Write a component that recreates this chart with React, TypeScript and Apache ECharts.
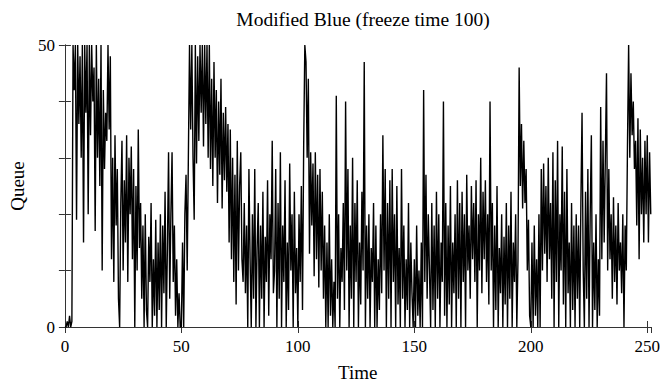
import React, { useEffect, useRef } from "react";
import * as echarts from "echarts";

const timeStep = 0.5;
const q000 = [0,0,1,0,2,0,1,50,42,50,19,50,36,48,30,50,15,50,38,50];
const q010 = [20,50,34,50,40,46,17,50,30,44,25,50,10,42,28,38,33,50,35,48];
const q020 = [12,30,8,34,18,28,5,0,22,33,10,26,15,34,8,30,20,32,12,28];
const q030 = [0,25,10,35,14,22,5,18,0,20,3,0,16,8,22,0,12,2,19,0];
const q040 = [15,3,20,0,18,6,24,0,14,31,5,20,31,8,18,2,12,0,6,0];
const q050 = [0,15,0,20,27,10,30,50,35,50,30,19,50,29,48,33,50,38,50,32];
const q060 = [50,36,50,30,50,28,44,25,47,30,42,22,40,27,44,21,38,26,39,24];
const q070 = [36,15,35,12,30,8,27,4,33,10,25,31,12,8,22,6,18,0,28,12];
const q080 = [0,20,5,28,0,14,22,0,18,5,24,0,16,8,26,2,20,12,33,6];
const q090 = [10,28,0,22,5,31,0,18,8,26,0,15,3,29,10,20,0,24,6,14];
const q100 = [0,20,8,25,3,32,50,47,30,44,13,31,18,29,9,31,12,27,7,28];
const q110 = [10,24,5,18,0,15,0,20,2,12,0,8,0,41,5,20,0,14,8,22];
const q120 = [3,40,10,28,0,18,5,30,0,22,8,26,0,15,4,24,10,47,0,18];
const q130 = [5,20,0,14,8,22,0,18,0,12,3,20,6,34,10,28,0,22,5,26];
const q140 = [0,28,8,20,0,25,4,14,0,28,5,18,0,12,3,22,0,15,6,0];
const q150 = [12,0,18,2,10,0,15,0,42,8,27,5,20,10,0,22,3,18,0,24];
const q160 = [5,20,0,15,8,40,2,22,0,18,4,25,0,15,6,20,0,26,5,22];
const q170 = [0,24,8,20,0,27,10,18,5,25,12,22,8,26,0,20,10,30,6,24];
const q180 = [12,26,8,20,4,40,10,22,0,18,3,25,0,14,6,20,0,16,4,22];
const q190 = [0,18,5,24,0,15,8,20,0,12,46,25,36,21,33,22,28,10,19,2];
const q200 = [0,15,0,18,2,12,0,20,0,28,10,29,13,25,8,30,12,22,5,31];
const q210 = [0,26,8,33,0,20,10,32,4,24,0,28,6,15,0,22,3,18,0,20];
const q220 = [5,18,0,22,38,10,0,24,5,28,0,20,34,0,15,3,20,0,12,2];
const q230 = [39,12,33,15,30,45,10,28,12,20,5,23,8,18,4,22,10,15,6,20];
const q240 = [0,18,10,32,50,30,45,34,40,28,33,18,37,12,35,20,30,15,33,20];
const q250 = [34,15,31,20];

const queue = [
  ...q000, ...q010, ...q020, ...q030, ...q040, ...q050, ...q060, ...q070,
  ...q080, ...q090, ...q100, ...q110, ...q120, ...q130, ...q140, ...q150,
  ...q160, ...q170, ...q180, ...q190, ...q200, ...q210, ...q220, ...q230,
  ...q240, ...q250,
];

const xTicks = [0, 50, 100, 150, 200, 250];
const yLabelled = [0, 50];
const xMax = 251.5;

const serif = "Liberation Serif, Times New Roman, serif";

export default function App() {
  const ref = useRef<HTMLDivElement>(null);

  useEffect(() => {
    if (!ref.current) return;
    const chart = echarts.init(ref.current, undefined, { renderer: "svg" });
    const data = queue.map((v, i) => [i * timeStep, v]);
    const axisColor = "#333";
    const commonX = {
      type: "value" as const,
      min: 0,
      max: xMax,
      interval: xTicks[1] - xTicks[0],
      axisLine: { show: true, lineStyle: { color: axisColor, width: 1 } },
      axisTick: { show: true, inside: true, length: 6, lineStyle: { color: axisColor } },
      splitLine: { show: false },
    };
    const commonY = {
      type: "value" as const,
      min: 0,
      max: 50,
      interval: 10,
      axisLine: { show: true, lineStyle: { color: axisColor, width: 1 } },
      axisTick: { show: true, inside: true, length: 6, lineStyle: { color: axisColor } },
      splitLine: { show: false },
    };
    chart.setOption({
      animation: false,
      backgroundColor: "#fff",
      title: {
        text: "Modified Blue (freeze time 100)",
        left: 358,
        top: 4,
        textAlign: "center",
        textStyle: { fontFamily: serif, fontSize: 19.5, fontWeight: "normal", color: "#000" },
      },
      grid: { left: 62, right: 8, top: 45, bottom: 61 },
      xAxis: [
        {
          ...commonX,
          position: "bottom",
          axisLabel: { fontFamily: serif, fontSize: 17, color: "#000", margin: 11 },
          name: "Time",
          nameLocation: "middle",
          nameGap: 36,
          nameTextStyle: { fontFamily: serif, fontSize: 19, color: "#000" },
        },
        { ...commonX, position: "top", axisLabel: { show: false } },
      ],
      yAxis: [
        {
          ...commonY,
          position: "left",
          axisLabel: {
            fontFamily: serif,
            fontSize: 17,
            color: "#000",
            margin: 10,
            formatter: (v: number) => (yLabelled.includes(v) ? String(v) : ""),
          },
          name: "Queue",
          nameLocation: "middle",
          nameGap: 34,
          nameRotate: 90,
          nameTextStyle: { fontFamily: serif, fontSize: 19, color: "#000" },
        },
        { ...commonY, position: "right", axisLabel: { show: false } },
      ],
      series: [
        {
          type: "line",
          xAxisIndex: 0,
          yAxisIndex: 0,
          data,
          showSymbol: false,
          symbol: "none",
          lineStyle: { color: "#000", width: 1.4 },
          clip: true,
        },
      ],
    });
    return () => chart.dispose();
  }, []);

  return (
    <div
      ref={ref}
      style={{ position: "fixed", left: 0, top: 0, width: 663, height: 388 }}
    />
  );
}
